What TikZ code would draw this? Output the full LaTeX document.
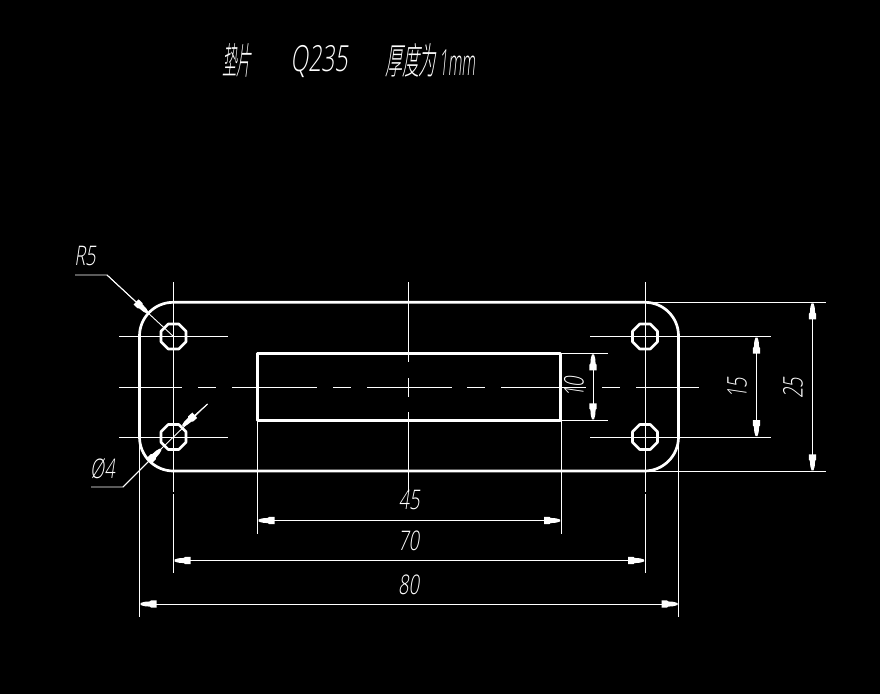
\documentclass[tikz,border=0pt]{standalone}
\usepackage{fontspec}
\usetikzlibrary{arrows.meta}
\newfontfamily\cadcjk[FakeSlant=0.2,FakeStretch=0.62]{Noto Sans CJK SC Light}
\newfontfamily\cadlatin[FakeSlant=0.22]{Open Sans Light}
\pgfdeclarearrow{
  name=CadTip,
  setup code={\pgfarrowssettipend{0pt}\pgfarrowssetlineend{-8pt}\pgfarrowssetvisualbackend{-17pt}\pgfarrowssetbackend{-17pt}},
  drawing code={
    \pgfsetfillcolor{white}
    \pgfpathmoveto{\pgfqpoint{-1pt}{1pt}}
    \pgfpathlineto{\pgfqpoint{-5pt}{2.2pt}}
    \pgfpathlineto{\pgfqpoint{-10.5pt}{2.6pt}}
    \pgfpathlineto{\pgfqpoint{-11.5pt}{3.6pt}}
    \pgfpathlineto{\pgfqpoint{-17pt}{3.6pt}}
    \pgfpathlineto{\pgfqpoint{-17pt}{-3.6pt}}
    \pgfpathlineto{\pgfqpoint{-11.5pt}{-3.6pt}}
    \pgfpathlineto{\pgfqpoint{-10.5pt}{-2.6pt}}
    \pgfpathlineto{\pgfqpoint{-5pt}{-2.2pt}}
    \pgfpathlineto{\pgfqpoint{-1pt}{-1pt}}
    \pgfpathclose
    \pgfusepathqfill
  }
}
\tikzset{
  x=1pt,y=-1pt,
  thinline/.style={draw=white,line width=0.9pt},
  thickline/.style={draw=white,line width=2.7pt,line join=round},
  dimline/.style={thinline,{CadTip}-{CadTip}},
  leadline/.style={thinline,-{CadTip}},
  cadtext/.style={text=white,inner sep=0pt,font=\cadlatin\fontsize{27}{27}\selectfont,xscale=0.68},
  titletext/.style={text=white,inner sep=0pt,font=\cadlatin\fontsize{36}{36}\selectfont},
  titlecjk/.style={text=white,inner sep=0pt,font=\cadcjk\fontsize{37}{37}\selectfont},
}
\newcommand{\hole}[2]{\draw[thickline] (#1-5.2,#2-12.5) -- (#1+5.2,#2-12.5) -- (#1+12.5,#2-5.2) -- (#1+12.5,#2+5.2) -- (#1+5.2,#2+12.5) -- (#1-5.2,#2+12.5) -- (#1-12.5,#2+5.2) -- (#1-12.5,#2-5.2) -- cycle;}
\begin{document}
\begin{tikzpicture}
\fill[black] (0,0) rectangle (880,694);
\useasboundingbox (0,0) rectangle (880,694);
% title
\node[titlecjk,xscale=0.63] (t1) at (236.5,60.5) {垫片};
\node[titletext,xscale=0.64] (t2) at (319,62) {Q235};
\node[titlecjk,xscale=0.74] (t3) at (410.5,60.5) {厚度为};
\node[titletext,xscale=0.43] (t4) at (457,62.5) {1mm};
% plate
\draw[thickline] (173.5,302.3) -- (645,302.3) arc[start angle=-90,end angle=0,radius=33.5] -- (678.5,437) arc[start angle=0,end angle=90,radius=34] -- (173.5,471) arc[start angle=90,end angle=180,radius=34] -- (139.5,336) arc[start angle=180,end angle=270,radius=33.7] -- cycle;
\draw[thickline] (257.5,353.3) rectangle (560.7,420.3);
\hole{173.5}{336.5}\hole{173.5}{437}\hole{645}{336.5}\hole{645}{437}
% centre lines
\draw[thinline] (119,336.5) -- (228,336.5) (119,437) -- (228,437) (590,336.5) -- (771,336.5) (590,437) -- (771,437);
\draw[thinline] (119,387) -- (182,387) (198,387) -- (216,387) (232,387) -- (317,387) (333,387) -- (351,387) (367,387) -- (452,387) (467,387) -- (485,387) (501,387) -- (586,387) (602,387) -- (620,387) (636,387) -- (699,387);
\draw[thinline] (173.5,282) -- (173.5,491.5) (173.5,494) -- (173.5,573) (645,282) -- (645,491.5) (645,494) -- (645,573) (408.5,282) -- (408.5,362) (408.5,378) -- (408.5,397) (408.5,412) -- (408.5,492);
% extension lines
\draw[thinline] (645,302.3) -- (826,302.3) (645,471.3) -- (826,471.3) (561,353.3) -- (608,353.3) (561,420.3) -- (608,420.3);
\draw[thinline] (257.5,420) -- (257.5,534) (561,420) -- (561,534) (139.5,336) -- (139.5,617) (678.5,437) -- (678.5,617);
% dimensions
\coordinate (a1) at (593,353.3); \coordinate (a2) at (593,420.3);
\coordinate (b1) at (756.5,336.5); \coordinate (b2) at (756.5,437);
\coordinate (c1) at (812.5,302.3); \coordinate (c2) at (812.5,471.3);
\coordinate (d1) at (257.5,520.5); \coordinate (d2) at (561,520.5);
\coordinate (e1) at (173.5,560.5); \coordinate (e2) at (645,560.5);
\coordinate (f1) at (139.5,604); \coordinate (f2) at (678.5,604);
\draw[dimline] (a1) -- (a2);
\draw[dimline] (b1) -- (b2);
\draw[dimline] (c1) -- (c2);
\draw[dimline] (d1) -- (d2);
\draw[dimline] (e1) -- (e2);
\draw[dimline] (f1) -- (f2);
% leaders
\coordinate (r0) at (75,275); \coordinate (r1) at (107,275); \coordinate (r2) at (148.5,313.5); \coordinate (r3) at (173.5,336.5);
\draw[thinline] (r0) -- (r1) -- (r3);
\draw[leadline] (r1) -- (r2);
\coordinate (p0) at (91,487); \coordinate (p1) at (123,487); \coordinate (p2) at (161.5,448.5); \coordinate (p3) at (207.5,404); \coordinate (p4) at (182,426.5);
\draw[thinline] (p0) -- (p1) -- (p2) -- (p3);
\draw[leadline] (p1) -- (p2);
\draw[leadline] (p3) -- (p4);
% labels
\node[cadtext] (lr5) at (85,255.5) {R5};
\node[cadtext] (lp4) at (102.5,468.5) {Ø4};
\node[cadtext] (l45) at (409,500) {45};
\node[cadtext] (l70) at (408.5,540.5) {70};
\node[cadtext] (l80) at (408.5,584.5) {80};
\node[rotate=90,cadtext] (l10) at (574,387) {10};
\node[rotate=90,cadtext] (l15) at (737,388) {15};
\node[rotate=90,cadtext] (l25) at (793,388) {25};
\end{tikzpicture}
\end{document}
